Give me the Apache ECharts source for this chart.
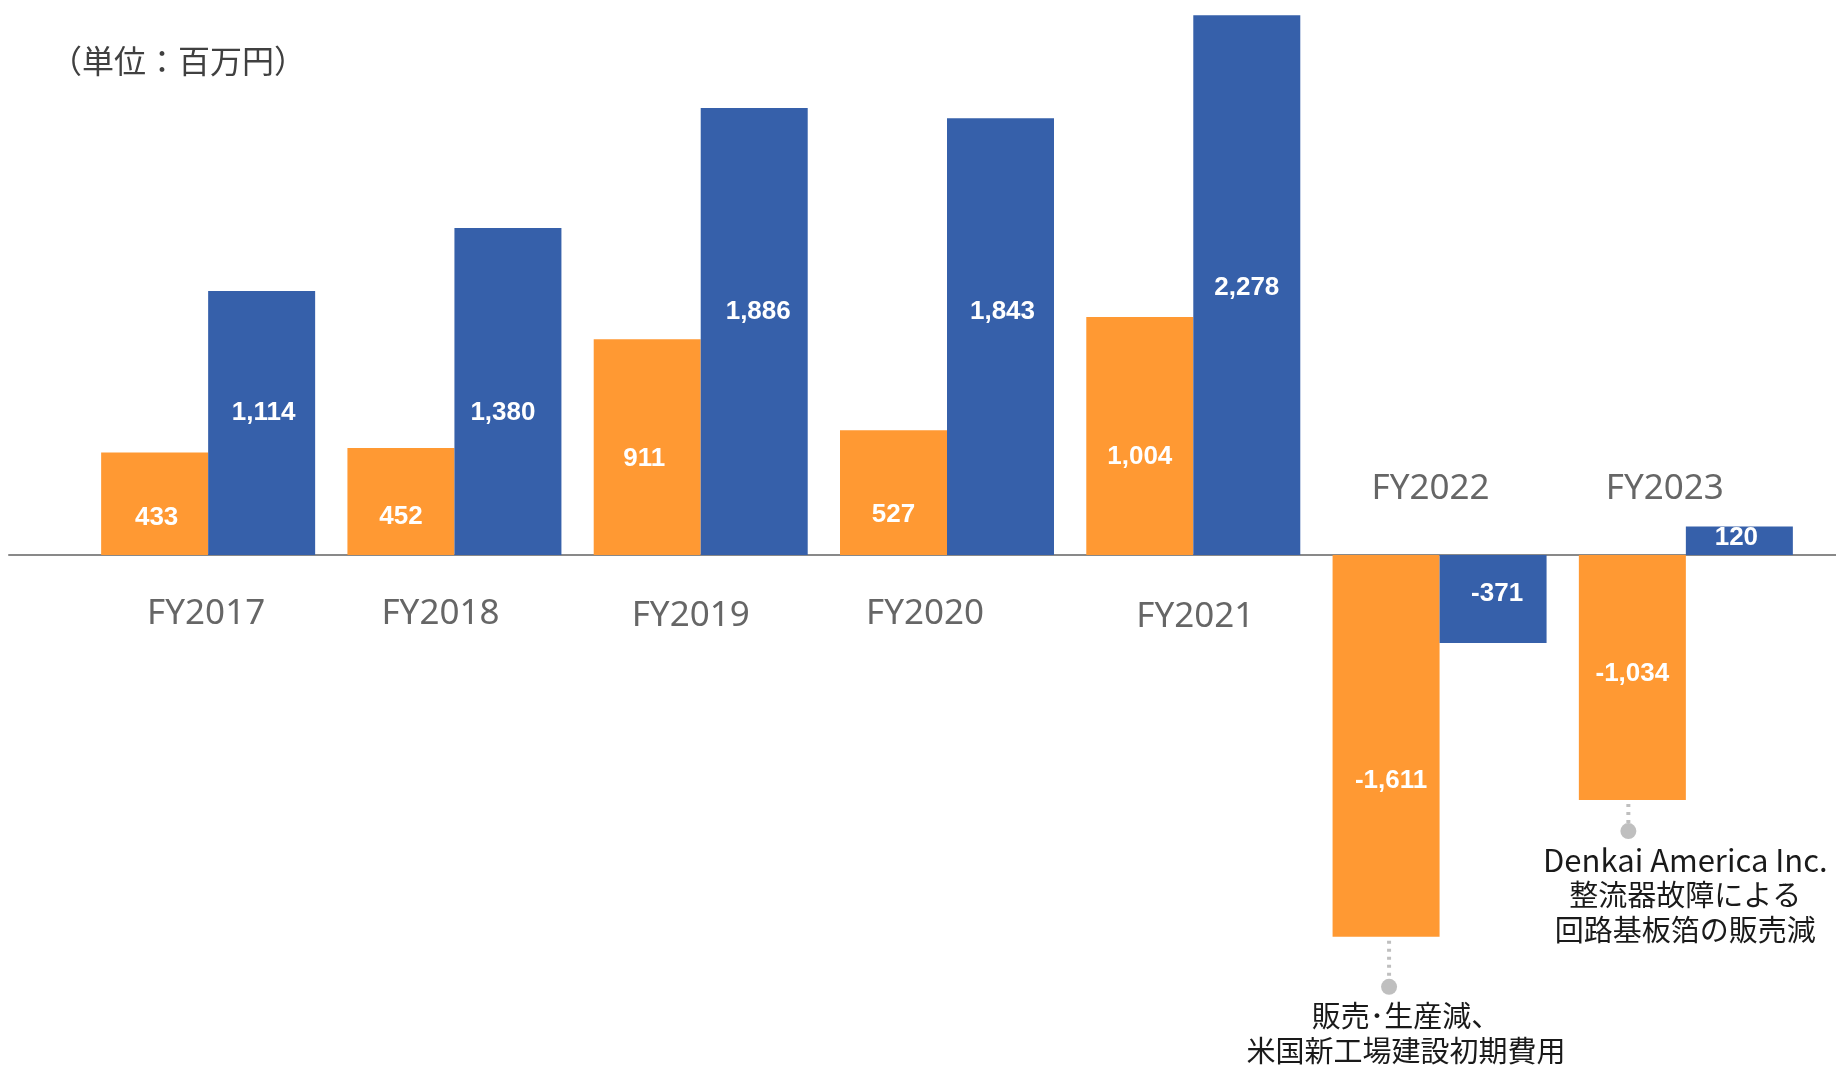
<!DOCTYPE html>
<html>
<head>
<meta charset="utf-8">
<script src="https://cdn.jsdelivr.net/npm/echarts@6/dist/echarts.min.js"></script>
<style>
  html, body { margin: 0; padding: 0; background: #ffffff; }
  #chart { width: 1836px; height: 1065px; }
</style>
</head>
<body>
<div id="chart"></div>
<script>
// Fiscal years and the two result series (百万円)
const categories = ['FY2017', 'FY2018', 'FY2019', 'FY2020', 'FY2021', 'FY2022', 'FY2023'];
const orangeValues = [433, 452, 911, 527, 1004, -1611, -1034];
const blueValues = [1114, 1380, 1886, 1843, 2278, -371, 120];
const unitText = '（単位：百万円）';

// Explanatory notes hung below the orange bars of the loss years
const noteCategories = ['FY2022', 'FY2023'];
const noteLines = [
  ['販売･生産減、', '米国新工場建設初期費用'],
  ['Denkai America Inc.', '整流器故障による', '回路基板箔の販売減']
];

// Styling: nudges of the value labels and of the year labels
const orangeLabelShift = [14, 15, 12, 22, 21, 35, -4];
const blueLabelShift = [-10, 21, -20, -25, 3, -5, -3];
const orangeLabelShiftX = [2, 0, -3, 0, 0, 5, 0];
const blueLabelShiftX = [2, -5, 4, 2, 0, 4, -3];
const yearLabelShift = [-2, -14, -10, -22, 2, -9, -21];
const yearLabelShiftY = [0, 0, 2, 0, 3, 0, 0];
// Note geometry: [dot distance below bar, dot x shift, text x shift]
const noteGeom = [[50, 3, 20], [31, -4, 53]];

const ORANGE = '#FF9933';
const BLUE = '#3660AA';
const Y_MIN = -2000, Y_MAX = 2300;

// Years with a loss carry their label above the zero line
const hasLoss = categories.map((c, i) => orangeValues[i] < 0 || blueValues[i] < 0);

function fmt(v) {
  return Number(v).toLocaleString('en-US');
}

const valueLabel = {
  show: true,
  position: 'inside',
  color: '#ffffff',
  fontFamily: 'Liberation Sans, Arial, sans-serif',
  fontWeight: 'bold',
  fontSize: 26,
  formatter: p => fmt(p.value)
};

const chart = echarts.init(document.getElementById('chart'), null, { renderer: 'canvas' });

chart.setOption({
  animation: false,
  backgroundColor: '#ffffff',
  grid: [
    { left: 85, width: 1724, top: 10, height: 1019, containLabel: false, outerBoundsMode: 'none' },
    { left: 9, right: 0, top: 10, height: 1019, containLabel: false, outerBoundsMode: 'none' }
  ],
  xAxis: [
    {
      type: 'category', gridIndex: 0, data: categories,
      axisLine: { show: false },
      axisTick: { show: false },
      axisLabel: { show: false },
      splitLine: { show: false }
    },
    {
      type: 'value', gridIndex: 1, min: 0, max: 1,
      axisLine: { show: true, onZero: true, lineStyle: { color: '#898989', width: 2 } },
      axisTick: { show: false },
      axisLabel: { show: false },
      splitLine: { show: false }
    }
  ],
  yAxis: [
    { type: 'value', gridIndex: 0, min: Y_MIN, max: Y_MAX, interval: 100, show: false, splitLine: { show: false } },
    { type: 'value', gridIndex: 1, min: Y_MIN, max: Y_MAX, interval: 100, show: false, splitLine: { show: false } }
  ],
  series: [
    {
      name: 'orange', type: 'bar', xAxisIndex: 0, yAxisIndex: 0,
      barWidth: 107, barGap: '0%',
      itemStyle: { color: ORANGE },
      label: valueLabel,
      data: orangeValues.map((v, i) => ({
        value: v, label: { offset: [orangeLabelShiftX[i], orangeLabelShift[i]] }
      }))
    },
    {
      name: 'blue', type: 'bar', xAxisIndex: 0, yAxisIndex: 0,
      barWidth: 107, barGap: '0%',
      itemStyle: { color: BLUE },
      label: valueLabel,
      data: blueValues.map((v, i) => ({
        value: v, label: { offset: [blueLabelShiftX[i], blueLabelShift[i]] }
      }))
    },
    {
      // Year labels sitting on the zero line of each category
      name: 'years', type: 'scatter', xAxisIndex: 0, yAxisIndex: 0,
      symbolSize: 0, silent: true, z: 5,
      data: categories.map((c, i) => ({
        value: [c, 0],
        label: {
          position: hasLoss[i] ? 'top' : 'bottom',
          distance: hasLoss[i] ? 49 : 41,
          offset: [yearLabelShift[i], yearLabelShiftY[i]]
        }
      })),
      label: {
        show: true,
        color: '#404040',
        fontFamily: 'Noto Sans',
        fontSize: 35,
        formatter: p => p.value[0]
      }
    }
  ]
});

// Notes: a dotted leader from the bar end down to a dot, with the text beneath
function buildNotes() {
  const data = chart.getModel().getSeriesByIndex(0).getData();
  const elements = [];
  noteCategories.forEach((cat, n) => {
    const idx = categories.indexOf(cat);
    const lay = data.getItemLayout(idx);
    const cx = lay.x + lay.width / 2;
    const bottom = Math.max(lay.y, lay.y + lay.height);
    const [gap, dotDx, textDx] = noteGeom[n];
    const dotY = bottom + gap;
    elements.push({
      type: 'line', silent: true,
      shape: { x1: cx + dotDx, y1: bottom + 4, x2: cx + dotDx, y2: dotY },
      style: { stroke: '#BFBFBF', lineWidth: 4, lineDash: [3, 5] }
    });
    elements.push({
      type: 'circle', silent: true,
      shape: { cx: cx + dotDx, cy: dotY, r: 8 },
      style: { fill: '#BFBFBF' }
    });
    noteLines[n].forEach((line, k) => {
      const latin = /^[\x00-\x7F]+$/.test(line);
      elements.push({
        type: 'text', silent: true,
        style: {
          x: cx + textDx, y: dotY + 29 + k * 35,
          text: line,
          align: 'center', verticalAlign: 'middle',
          font: (latin ? '31px' : '29px') + ' "Noto Sans CJK JP", sans-serif',
          fill: '#1a1a1a'
        }
      });
    });
  });
  elements.push({
    type: 'text', silent: true,
    style: {
      x: 50, y: 61, text: unitText,
      align: 'left', verticalAlign: 'middle',
      font: '32px "Noto Sans CJK JP", sans-serif',
      fill: '#404040'
    }
  });
  chart.setOption({ graphic: { elements } });
}
buildNotes();
</script>
</body>
</html>
